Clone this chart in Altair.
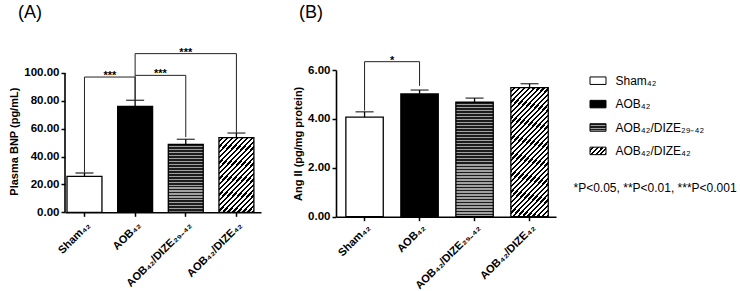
import math
import altair as alt
import pandas as pd

# ---------------- data ----------------
groups = ["Sham₄₂", "AOB₄₂", "AOB₄₂/DIZE₂₉₋₄₂", "AOB₄₂/DIZE₄₂"]
bnp_mean = [25.8, 76.1, 48.8, 53.6]
bnp_upper = [28.2, 80.4, 52.4, 56.9]
ang_mean = [4.07, 5.02, 4.68, 5.28]
ang_upper = [4.29, 5.18, 4.85, 5.44]

# brackets: left group, right group, level, left leg bottom, right leg bottom, label
bnp_br_left = ["Sham₄₂", "AOB₄₂", "AOB₄₂"]
bnp_br_right = ["AOB₄₂", "AOB₄₂/DIZE₂₉₋₄₂", "AOB₄₂/DIZE₄₂"]
bnp_br_level = [97.1, 98.3, 113.9]
bnp_br_lbot = [28.5, 80.6, 98.3]
bnp_br_rbot = [80.9, 54.0, 57.0]
bnp_br_label = ["***", "***", "***"]

ang_br_left = ["Sham₄₂"]
ang_br_right = ["AOB₄₂"]
ang_br_level = [6.34]
ang_br_lbot = [4.34]
ang_br_rbot = [5.35]
ang_br_label = ["*"]

note = "*P<0.05, **P<0.01, ***P<0.001"

FONT = "Liberation Sans"

# ---------------- pattern helpers ----------------
def hstripes(n, dark="#1c1c1c", light="#a0a0a0", frac=0.6):
    stops = []
    for i in range(n):
        a, b, c = i / n, (i + frac) / n, (i + 1) / n
        stops += [{"offset": a, "color": dark}, {"offset": b, "color": dark},
                  {"offset": b, "color": light}, {"offset": c, "color": light}]
    return {"gradient": "linear", "x1": 0, "y1": 0, "x2": 0, "y2": 1, "stops": stops}


def diag(w, h, period=3.6, theta=47, frac=0.55, dark="#000000", light="#ffffff"):
    s, c = math.sin(math.radians(theta)), math.cos(math.radians(theta))
    k = (w * s + h * c) / (w * w * s * s + h * h * c * c)
    x2, y2 = k * w * s, k * h * c
    L = w * s + h * c
    n = max(2, round(L / period))
    stops = []
    for i in range(n):
        a, b, cc = i / n, (i + frac) / n, (i + 1) / n
        stops += [{"offset": a, "color": light}, {"offset": b, "color": light},
                  {"offset": b, "color": dark}, {"offset": cc, "color": dark}]
    return {"gradient": "linear", "x1": 0, "y1": 0, "x2": x2, "y2": y2, "stops": stops}


def fills(bw, heights_px):
    return [
        "#ffffff",
        "#000000",
        hstripes(max(2, round(heights_px[2] / 3.0))),
        diag(bw, heights_px[3]),
    ]


# ---------------- panel builder ----------------
def panel(means, uppers, brl, brr, brlev, brlb, brrb, brlab, ytop, yvals,
          W, H, pi, po, al, ytitle, title, tdx, manual_axis, xlab_size, xlab_pad):
    step = W / (len(groups) - pi + 2 * po)
    bw = step * (1 - pi)
    pxu = H / ytop
    df = pd.DataFrame({"g": groups, "m": means, "u": uppers})
    br = pd.DataFrame({"l": brl, "r": brr, "lev": brlev, "lb": brlb, "rb": brrb, "lab": brlab})

    xscale = alt.Scale(domain=groups, paddingInner=pi, paddingOuter=po, align=al)
    xaxis = alt.Axis(labelAngle=-45, labelFont=FONT, labelFontSize=xlab_size, labelFontWeight="bold",
                     labelColor="#000", tickColor="#000", tickSize=4, tickWidth=1.5,
                     domainColor="#000", domainWidth=1.6, labelPadding=xlab_pad, title=None,
                     labelLimit=200)
    yscale = alt.Scale(domain=[0, ytop], nice=False, zero=True)
    yaxis = alt.Axis(values=yvals, format=".2f", grid=False, labelFont=FONT, labelFontSize=11.5,
                     labelFontWeight="bold", labelColor="#000", tickColor="#000", tickSize=4,
                     tickWidth=1.5, domain=not manual_axis, domainColor="#000", domainWidth=1.6,
                     labelPadding=2, titleFont=FONT, titleFontSize=11, titleFontWeight="bold",
                     titleColor="#000", titlePadding=4)

    def X(f):
        return alt.X(f"{f}:N", scale=xscale, axis=xaxis, title=None)

    def Y(f):
        return alt.Y(f"{f}:Q", scale=yscale, axis=yaxis, title=ytitle)

    heights = [m * pxu for m in means]
    fl = fills(bw, heights)
    layers = []
    for g, f in zip(groups, fl):
        layers.append(
            alt.Chart(df).transform_filter(alt.datum.g == g)
            .mark_bar(fill=f, stroke="#000", strokeWidth=1.3)
            .encode(x=X("g"), y=Y("m"))
        )
    layers.append(alt.Chart(df).mark_rule(color="#000", strokeWidth=1.3)
                  .encode(x=X("g"), y=Y("m"), y2="u"))
    layers.append(alt.Chart(df).mark_tick(color="#000", thickness=1.4, size=18, orient="horizontal")
                  .encode(x=X("g"), y=Y("u")))
    if manual_axis:
        ax = pd.DataFrame({"a": [0], "b": [max(yvals)]})
        layers.append(alt.Chart(ax).mark_rule(color="#000", strokeWidth=1.6)
                      .encode(x=alt.value(0), y=Y("a"), y2="b"))
    # brackets
    layers.append(alt.Chart(br).mark_rule(color="#222", strokeWidth=1)
                  .encode(x=X("l"), x2="r", y=Y("lev")))
    layers.append(alt.Chart(br).mark_rule(color="#222", strokeWidth=1)
                  .encode(x=X("l"), y=Y("lev"), y2="lb"))
    layers.append(alt.Chart(br).mark_rule(color="#222", strokeWidth=1)
                  .encode(x=X("r"), y=Y("lev"), y2="rb"))
    for i in range(len(br)):
        span = groups.index(brr[i]) - groups.index(brl[i])
        layers.append(
            alt.Chart(br.iloc[[i]]).mark_text(font=FONT, fontSize=11, fontWeight="bold",
                                               baseline="alphabetic", dy=2, dx=step * span / 2,
                                               color="#000")
            .encode(x=X("l"), y=Y("lev"), text="lab:N")
        )
    # panel label
    layers.append(
        alt.Chart(pd.DataFrame({"t": [title]}))
        .mark_text(font=FONT, fontSize=18, align="left", baseline="alphabetic", color="#000")
        .encode(x=alt.value(tdx), y=alt.value(-51.7), text="t:N")
    )
    return alt.layer(*layers).properties(width=W, height=H)


pA = panel(bnp_mean, bnp_upper, bnp_br_left, bnp_br_right, bnp_br_level, bnp_br_lbot,
           bnp_br_rbot, bnp_br_label, 102.15, [0, 20, 40, 60, 80, 100],
           196, 142.3, 0.31, 0.09, 0.22, "Plasma BNP (pg/mL)", "(A)", -47, True, 11, 3)
pB = panel(ang_mean, ang_upper, ang_br_left, ang_br_right, ang_br_level, ang_br_lbot,
           ang_br_rbot, ang_br_label, 6.0, [0, 2, 4, 6],
           220, 146.7, 0.32, 0.16, 0.56, "Ang II (pg/mg protein)", "(B)", -37, False, 11, 1)

# ---------------- legend ----------------
ldf = pd.DataFrame({"g": groups})
lscale = alt.Scale(domain=groups, paddingInner=0.68, paddingOuter=0.297)
LY = alt.Y("g:N", scale=lscale, axis=None, title=None)
lfills = ["#ffffff", "#000000", hstripes(3), diag(16, 7.5, period=3.4)]
llayers = []
for g, f in zip(groups, lfills):
    llayers.append(alt.Chart(ldf).transform_filter(alt.datum.g == g)
                   .mark_bar(fill=f, stroke="#000", strokeWidth=1)
                   .encode(x=alt.value(0), x2=alt.value(16), y=LY))
llayers.append(alt.Chart(ldf).mark_text(font=FONT, fontSize=12, align="left", baseline="middle",
                                        color="#000")
               .encode(x=alt.value(25.5), y=LY, text="g:N"))
llayers.append(alt.Chart(pd.DataFrame({"t": [note]}))
               .mark_text(font=FONT, fontSize=12, align="left", baseline="middle", color="#000")
               .encode(x=alt.value(-16.5), y=alt.value(117.5), text="t:N"))
legend = alt.layer(*llayers).properties(width=140, height=91.6)

chart = alt.hconcat(
    alt.hconcat(pA, pB, spacing=31),
    legend,
    spacing=17,
).properties(
    background="white",
    padding={"left": 8, "top": 4, "right": 0, "bottom": 0},
).configure_view(stroke=None)

chart.save("out.html", embed_options={"renderer": "svg", "actions": False})
